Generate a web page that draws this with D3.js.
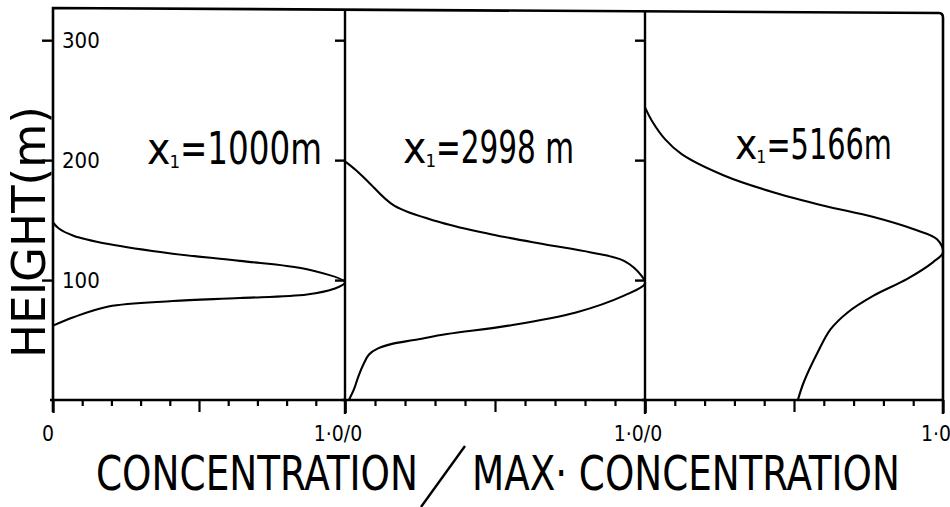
<!DOCTYPE html>
<html>
<head>
<meta charset="utf-8">
<script src="https://cdn.jsdelivr.net/npm/d3@7/dist/d3.min.js"></script>
<style>
  body { margin: 0; background: #fff; }
  text { fill: #000; font-family: "DejaVu Sans Condensed", "Liberation Sans", sans-serif; }
</style>
</head>
<body>
<svg id="chart" width="950" height="507"></svg>
<script>
// Downwind distances of the three profiles (panel titles)
const distances = ["1000m", "2998 m", "5166m"];

// Height axis ticks (m)
const heightTicks = [100, 200, 300];
const heightLabels = ["100", "200", "300"];

// Concentration axis ticks (fraction of maximum)
const concTicks = [0, 0.1, 0.2, 0.3, 0.4, 0.5, 0.6, 0.7, 0.8, 0.9, 1.0];
const concLabels = ["0", "1\u00b70/0", "1\u00b70/0", "1\u00b70"];

// Profile at x1 = 1000 m : height (m) and concentration / max concentration
const height1000 = [62, 69, 78, 82.5, 85, 88, 92.5, 98, 109, 116, 122, 130, 137, 143, 148];
const conc1000   = [0, 0.07, 0.19, 0.41, 0.64, 0.87, 0.96, 1.0, 0.87, 0.64, 0.41, 0.19, 0.07, 0.02, 0];

// Profile at x1 = 2998 m
const height2998 = [0, 9, 20, 30, 38, 43, 47, 50, 55, 62, 73, 87, 97, 103, 116, 123, 130, 138, 148, 162, 182, 192, 199];
const conc2998   = [0.013, 0.03, 0.045, 0.062, 0.08, 0.11, 0.16, 0.23, 0.34, 0.545, 0.77, 0.93, 1.0, 0.99, 0.93, 0.82, 0.66, 0.49, 0.32, 0.164, 0.077, 0.035, 0];

// Profile at x1 = 5166 m
const height5166 = [0, 15, 40, 59, 73, 87, 101, 115, 123, 134, 142.5, 152.5, 162, 173, 187, 205, 217.5, 232, 244];
const conc5166   = [0.513, 0.533, 0.58, 0.623, 0.68, 0.767, 0.88, 0.967, 1.0, 0.98, 0.9, 0.767, 0.6, 0.433, 0.267, 0.123, 0.067, 0.025, 0];

const profiles = [
  { h: height1000, c: conc1000 },
  { h: height2998, c: conc2998 },
  { h: height5166, c: conc5166 }
];

const svg = d3.select("#chart");

// Layout: three panels sharing one height axis
const edges = [53, 345, 645, 943];
const yTop = 9, yBottom = 400;
const y = d3.scaleLinear().domain([0, 326]).range([yBottom, yTop]);
const xs = [0, 1, 2].map(i => d3.scaleLinear().domain([0, 1]).range([edges[i], edges[i + 1]]));

const ink = "#000";

// Text squeezed horizontally to a given width
function squeezedText(str, x, y, size, width, rotate) {
  const t = svg.append("text").attr("font-size", size).text(str);
  const natural = t.node().getComputedTextLength();
  const sx = width / natural;
  if (rotate) {
    t.attr("text-anchor", "middle")
     .attr("transform", `translate(${x},${y}) rotate(-90) scale(${sx},1)`);
  } else {
    t.attr("transform", `translate(${x},${y}) scale(${sx},1)`);
  }
  return t;
}

// Outer frame
svg.append("path")
  .attr("d", `M${edges[0]},${yBottom + 12} L${edges[0]},${yTop - 1} L${edges[3] - 4},${yTop + 4} Q${edges[3]},${yTop + 4} ${edges[3]},${yTop + 9} L${edges[3]},${yBottom + 14}`)
  .attr("fill", "none").attr("stroke", ink).attr("stroke-width", 2.6);

// Panel dividers
[1, 2].forEach(i => {
  svg.append("line")
    .attr("x1", edges[i]).attr("x2", edges[i])
    .attr("y1", yTop + (i === 1 ? 1 : 2.5)).attr("y2", yBottom + 14)
    .attr("stroke", ink).attr("stroke-width", 2.4);
});

// Height axis on the left, ticks pointing out
const yAxis = svg.append("g")
  .attr("transform", `translate(${edges[0]},0)`)
  .call(d3.axisLeft(y).tickValues(heightTicks).tickSize(11).tickFormat(""));
yAxis.select(".domain").remove();
yAxis.selectAll(".tick line").attr("stroke", ink).attr("stroke-width", 2.4);

// Height labels sit just inside the first panel
svg.selectAll("text.hlabel")
  .data(heightTicks)
  .join("text")
  .attr("class", "hlabel")
  .attr("x", edges[0] + 9)
  .attr("y", d => y(d) + 8)
  .attr("font-size", 22)
  .attr("font-family", "Liberation Sans, sans-serif")
  .text((d, i) => heightLabels[i]);

// Height ticks repeated on the dividers, pointing into the panel on the left
[1, 2].forEach(i => {
  const g = svg.append("g")
    .attr("transform", `translate(${edges[i]},0)`)
    .call(d3.axisLeft(y).tickValues(heightTicks).tickSize(10).tickFormat(""));
  g.select(".domain").remove();
  g.selectAll(".tick line").attr("stroke", ink).attr("stroke-width", 2.4);
});

// Concentration axes along the bottom of each panel
xs.forEach((x, i) => {
  const g = svg.append("g")
    .attr("transform", `translate(0,${yBottom})`)
    .call(d3.axisBottom(x).tickValues(concTicks).tickSize(6).tickFormat(""));
  g.select(".domain").attr("stroke", ink).attr("stroke-width", 2.6)
    .attr("d", `M${x(0) - 3},0H${x(1)}`);
  g.selectAll(".tick line")
    .attr("stroke", ink).attr("stroke-width", 2.2)
    .attr("y2", d => (d === 0 || d === 1) ? 13 : (Math.abs(d - 0.5) < 1e-9 ? 12 : 6));
});

// Concentration tick labels at panel edges
const labelXs = [xs[0](0) - 5, xs[0](1) - 7, xs[1](1) - 7, xs[2](1) - 7];
svg.selectAll("text.clabel")
  .data(concLabels)
  .join("text")
  .attr("class", "clabel")
  .attr("x", (d, i) => labelXs[i])
  .attr("y", 441)
  .attr("text-anchor", "middle")
  .attr("font-size", 21)
  .attr("font-family", "Liberation Sans, sans-serif")
  .text(d => d);

// Concentration profiles
profiles.forEach((p, i) => {
  const pts = p.h.map((h, k) => ({ h, c: p.c[k] }));
  const line = d3.line()
    .x(d => xs[i](d.c))
    .y(d => y(d.h))
    .curve(d3.curveCatmullRom.alpha(0.5));
  svg.append("path")
    .datum(pts)
    .attr("d", line)
    .attr("fill", "none")
    .attr("stroke", ink)
    .attr("stroke-width", 2.1)
    .attr("stroke-linejoin", "round");
});

// Panel titles: "x", subscript "1", then "=distance"
const titlePos = [
  { x: 147, y: 164, size: 44, right: 322 },
  { x: 403, y: 163, size: 44, right: 574 },
  { x: 735, y: 159, size: 42, right: 892 }
];
distances.forEach((d, i) => {
  const t = titlePos[i];
  const xChar = svg.append("text")
    .attr("x", t.x).attr("y", t.y)
    .attr("font-size", t.size)
    .text("x");
  const w1 = xChar.node().getComputedTextLength();
  const sub = svg.append("text")
    .attr("x", t.x + w1 - 1).attr("y", t.y + 4)
    .attr("font-size", t.size * 0.42)
    .text("1");
  const w2 = sub.node().getComputedTextLength();
  const start = t.x + w1 + w2 - 1;
  squeezedText("=" + d, start, t.y, t.size, t.right - start, false);
});

// Axis titles
squeezedText("HEIGHT(m)", 45, 232, 46, 252, true);
squeezedText("CONCENTRATION", 96, 490, 48, 322, false);

svg.append("line")
  .attr("x1", 465).attr("y1", 446)
  .attr("x2", 421).attr("y2", 507)
  .attr("stroke", ink).attr("stroke-width", 2.4);

squeezedText("MAX\u00b7 CONCENTRATION", 472, 490, 48, 428, false);
</script>
</body>
</html>
